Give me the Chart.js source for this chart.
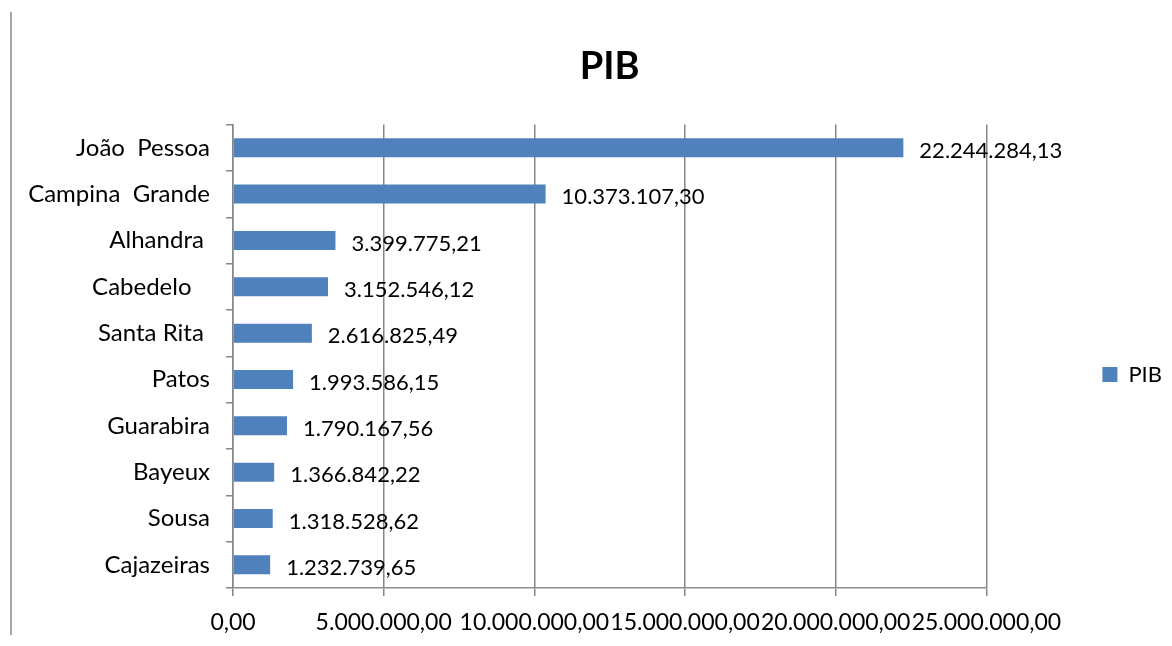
<!DOCTYPE html>
<html><head><meta charset="utf-8">
<script src="https://cdn.jsdelivr.net/npm/chart.js@4"></script>
<style>html,body{margin:0;padding:0;background:#fff;overflow:hidden;}</style>
</head><body>
<canvas id="c" width="1172" height="646"></canvas>
<script>
const categories = ['João  Pessoa', 'Campina  Grande', 'Alhandra ', 'Cabedelo   ', 'Santa Rita ', 'Patos', 'Guarabira', 'Bayeux', 'Sousa', 'Cajazeiras'];
const pibValues = [22244284.13, 10373107.30, 3399775.21, 3152546.12, 2616825.49, 1993586.15, 1790167.56, 1366842.22, 1318528.62, 1232739.65];
const xTickValues = [0, 5000000, 10000000, 15000000, 20000000, 25000000];
const xTickLabels = ['0,00', '5.000.000,00', '10.000.000,00', '15.000.000,00', '20.000.000,00', '25.000.000,00'];
const seriesName = 'PIB';
const chartTitle = 'PIB';

const FONT = 'Lato';
const GRID = '#868686';

function fmtBR(v) {
  const parts = v.toFixed(2).split('.');
  return parts[0].replace(/\B(?=(\d{3})+(?!\d))/g, '.') + ',' + parts[1];
}

const valueLabels = {
  id: 'valueLabels',
  afterDatasetsDraw(chart) {
    const ctx = chart.ctx;
    const meta = chart.getDatasetMeta(0);
    const data = chart.data.datasets[0].data;
    ctx.save();
    ctx.font = '22px ' + FONT;
    ctx.fillStyle = '#000';
    ctx.textAlign = 'left';
    ctx.textBaseline = 'middle';
    meta.data.forEach((bar, i) => {
      ctx.fillText(fmtBR(data[i]), bar.x + 16, bar.y + 3);
    });
    ctx.restore();
  }
};

const frame = {
  id: 'frame',
  beforeDraw(chart) {
    const ctx = chart.ctx;
    ctx.save();
    ctx.fillStyle = '#fff';
    ctx.fillRect(0, 0, chart.width, chart.height);
    ctx.strokeStyle = '#a6a6a6';
    ctx.lineWidth = 2;
    ctx.beginPath();
    ctx.moveTo(11, 12);
    ctx.lineTo(11, 635);
    ctx.stroke();
    ctx.restore();
  }
};

function build() {
  new Chart(document.getElementById('c'), {
    type: 'bar',
    data: {
      labels: categories,
      datasets: [{
        label: seriesName,
        data: pibValues,
        backgroundColor: '#4F81BD',
        borderWidth: 0,
        categoryPercentage: 1,
        barPercentage: 0.41
      }]
    },
    options: {
      indexAxis: 'y',
      responsive: false,
      animation: false,
      devicePixelRatio: 1,
      layout: { padding: 0 },
      plugins: {
        title: {
          display: true,
          text: chartTitle,
          fullSize: false,
          color: '#000',
          font: { family: FONT, size: 38, weight: 'bold' },
          padding: { top: 44, bottom: 35 }
        },
        legend: {
          display: true,
          position: 'right',
          labels: {
            boxWidth: 15,
            boxHeight: 15,
            color: '#000',
            padding: 10,
            font: { family: FONT, size: 22 }
          },
          title: { display: true, text: '', padding: { top: 102, bottom: 0 }, font: { size: 1 } }
        },
        tooltip: { enabled: false }
      },
      scales: {
        x: {
          type: 'linear',
          position: 'bottom',
          min: 0,
          max: 25000000,
          afterBuildTicks(scale) { scale.ticks = xTickValues.map(v => ({ value: v })); },
          ticks: {
            autoSkip: false,
            maxRotation: 0,
            minRotation: 0,
            color: '#000',
            padding: 13,
            font: { family: FONT, size: 23 },
            callback(v) { const i = xTickValues.indexOf(v); return i >= 0 ? xTickLabels[i] : ''; }
          },
          grid: { color: GRID, lineWidth: 1.5, tickLength: 8, drawTicks: true },
          border: { color: '#8c8c8c', width: 1.5 },
          afterFit(s) { s.height = 58; }
        },
        y: {
          type: 'category',
          position: 'left',
          ticks: { autoSkip: false, color: '#000', padding: 16, font: { family: FONT, size: 24 } },
          grid: { drawOnChartArea: false, drawTicks: true, tickLength: 7, color: GRID, lineWidth: 1.5, offset: true },
          border: { color: GRID, width: 1.5 },
          afterFit(s) { s.width = 233; }
        },
        yDummy: {
          axis: 'y',
          type: 'linear',
          position: 'right',
          display: true,
          grid: { display: false },
          border: { display: false },
          ticks: { display: false },
          afterFit(s) { s.width = 106; }
        }
      }
    },
    plugins: [frame, valueLabels]
  });
}

if (document.fonts && document.fonts.load) {
  Promise.all([document.fonts.load('22px Lato'), document.fonts.load('bold 38px Lato')]).then(build, build);
} else { build(); }
</script>
</body></html>
